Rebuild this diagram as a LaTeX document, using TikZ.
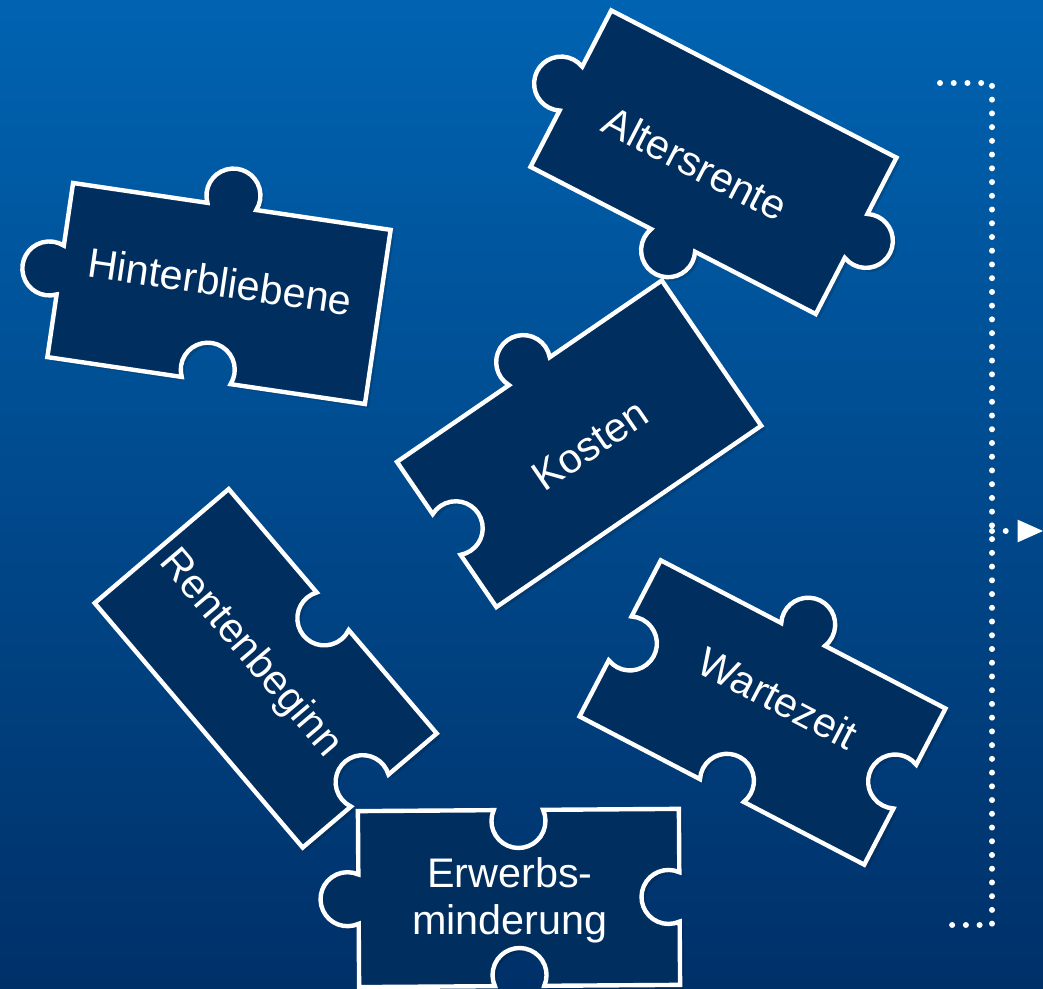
\documentclass[tikz,border=0pt]{standalone}
\usepackage{fontspec}
\setmainfont{Liberation Sans}
\usetikzlibrary{arrows.meta}
\definecolor{bgtop}{RGB}{0,99,177}
\definecolor{bgbot}{RGB}{0,48,104}
\definecolor{piecefill}{RGB}{0,46,94}

\newcommand\pTopF{-- (160.5,88)}
\newcommand\pTopK{-- (-24.66,88) arc[start angle=204, end angle=-24, radius=27] -- (160.5,88)}
\newcommand\pTopH{-- (-24.66,88) arc[start angle=156, end angle=384, radius=27] -- (160.5,88)}
\newcommand\pRightF{-- (160.5,-88)}
\newcommand\pRightK{-- (160.5,24.66) arc[start angle=114, end angle=-114, radius=27] -- (160.5,-88)}
\newcommand\pRightH{-- (160.5,24.66) arc[start angle=66, end angle=294, radius=27] -- (160.5,-88)}
\newcommand\pBottomF{-- (-160.5,-88)}
\newcommand\pBottomK{-- (24.66,-88) arc[start angle=24, end angle=-204, radius=27] -- (-160.5,-88)}
\newcommand\pBottomH{-- (24.66,-88) arc[start angle=-24, end angle=204, radius=27] -- (-160.5,-88)}
\newcommand\pLeftF{-- cycle}
\newcommand\pLeftK{-- (-160.5,-24.66) arc[start angle=-66, end angle=-294, radius=27] -- cycle}
\newcommand\pLeftH{-- (-160.5,-24.66) arc[start angle=246, end angle=474, radius=27] -- cycle}

\newcommand\puzzlepiece[7]{%
  \begin{scope}[shift={(#1+4,#2-4)}, rotate=#3]
    \fill[black, opacity=.12] (-160.5,88) #4 #5 #6 #7;
  \end{scope}
  \begin{scope}[shift={(#1+2,#2-2)}, rotate=#3]
    \fill[black, opacity=.15] (-160.5,88) #4 #5 #6 #7;
  \end{scope}
  \begin{scope}[shift={(#1,#2)}, rotate=#3]
    \path[piecestyle] (-160.5,88) #4 #5 #6 #7;
  \end{scope}}

\tikzset{
  piecestyle/.style={fill=piecefill, draw=white, line width=3.3pt},
  ptext/.style={text=white, font=\fontsize{31}{35.5}\selectfont, inner sep=0pt, align=center},
  dotline/.style={draw=white, line width=4.5pt, line cap=round, dash pattern=on 0pt off 10.3pt}
}

\begin{document}
\begin{tikzpicture}[x=0.75pt, y=0.75pt]
  \useasboundingbox (0,0) rectangle (1043,989);
  \shade[top color=bgtop, bottom color=bgbot] (0,0) rectangle (1043,989);

  % Hinterbliebene
  \puzzlepiece{219}{695.5}{-8.4}{\pTopK}{\pRightF}{\pBottomH}{\pLeftK}
  \node[ptext, rotate=-8.4] (hinter) at (220,707.5) {Hinterbliebene};

  % Altersrente
  \puzzlepiece{713.5}{826.75}{-27.3}{\pTopF}{\pRightK}{\pBottomK}{\pLeftK}
  \node[ptext, rotate=-27.3] (alter) at (695.5,825.5) {Altersrente};

  % Kosten
  \puzzlepiece{579.1}{545.2}{34.4}{\pTopK}{\pRightF}{\pBottomF}{\pLeftH}
  \node[ptext, rotate=34.4] (kosten) at (590,544) {Kosten};

  % Rentenbeginn
  \puzzlepiece{265.7}{320.7}{-49.6}{\pTopH}{\pRightH}{\pBottomF}{\pLeftF}
  \node[ptext, rotate=-49.6] (beginn) at (250,335) {Rentenbeginn};

  % Wartezeit
  \puzzlepiece{762.5}{276.5}{-27.5}{\pTopK}{\pRightH}{\pBottomH}{\pLeftH}
  \node[ptext, rotate=-27.5] (warte) at (778,291) {Wartezeit};

  % Erwerbsminderung
  \puzzlepiece{519}{91}{0.4}{\pTopH}{\pRightH}{\pBottomH}{\pLeftK}
  \node[ptext] (erwerb) at (510,89) {Erwerbs-\\minderung};

  % dotted bracket and arrow
  \coordinate (brtopL) at (940,906);
  \coordinate (brtopR) at (992,906);
  \coordinate (brbotR) at (992,64);
  \coordinate (brbotL) at (940,64);
  \coordinate (brmid) at (992,458);
  \coordinate (arrend) at (1043,458);
  \path[dotline] (brtopL) -- (brtopR) -- (brbotR) -- (brbotL);
  \path[dotline, -{Triangle[length=19 0 0, width=17 0 0, fill=white, line width=0pt]}] (brmid) -- (arrend);
\end{tikzpicture}
\end{document}
